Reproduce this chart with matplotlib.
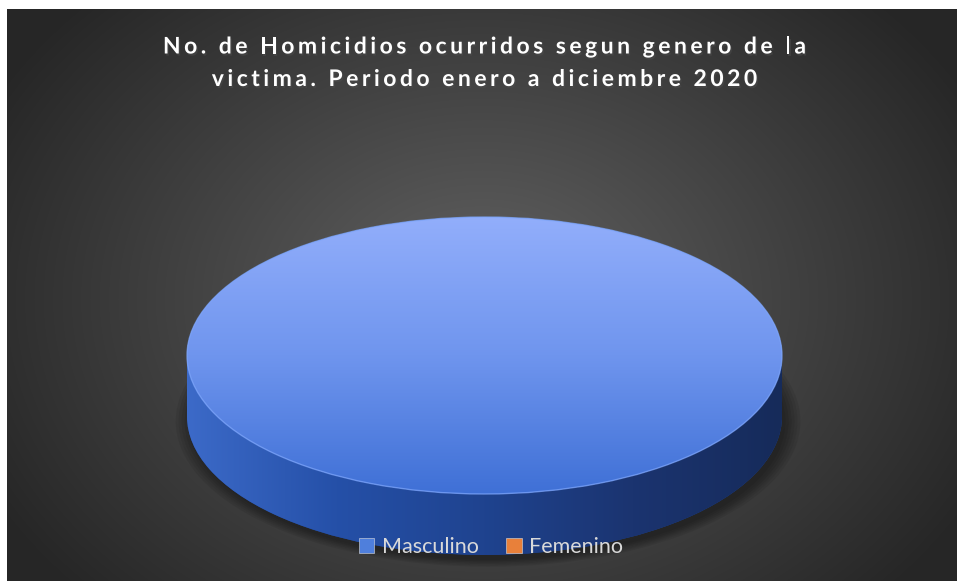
import matplotlib.pyplot as plt
import numpy as np
from matplotlib import patheffects
from matplotlib.colors import LinearSegmentedColormap
from matplotlib.font_manager import FontProperties
from matplotlib.patches import Patch, Rectangle
from matplotlib.textpath import TextToPath

# datos del grafico
generos = ["Masculino", "Femenino"]
homicidios = [100, 0]
titulo = ["No. de Homicidios ocurridos segun genero de la",
          "victima. Periodo enero a diciembre 2020"]

# colores por serie: (cara superior arriba -> abajo), (pared izquierda -> derecha)
top_colors = [["#92aefb", "#6f95ee", "#3f70d6"], ["#f6b27c", "#ee8f4a", "#d86a22"]]
side_colors = [["#3c6ac8", "#2550a8", "#1f438f", "#1b3470", "#162b5a"],
               ["#d06a28", "#b45a20", "#9c4e1c", "#853f16", "#6e3412"]]
legend_colors = ["#4f7fdc", "#e8803a"]

W, H = 957, 581
DPI = 100
fig = plt.figure(figsize=(W / DPI, H / DPI), dpi=DPI)
fig.patch.set_facecolor("white")

# fondo gris oscuro con degradado radial
ax_bg = fig.add_axes([7 / W, 0, (W - 7) / W, (H - 9) / H])
yy, xx = np.mgrid[0:H - 9, 0:W - 7]
r = np.sqrt(((xx - 475) / 560.0) ** 2 + ((yy - 290) / 430.0) ** 2).clip(0, 1)
bg = (98 - 60 * r) / 255.0
ax_bg.imshow(np.dstack([bg, bg, bg]), aspect="auto", interpolation="bilinear")
ax_bg.set_axis_off()

# ejes del pastel en unidades de radio (elipse aplastada)
ax = fig.add_axes([0, 0, 1, 1])
ax.patch.set_alpha(0)
thick = 0.44
xlim = (-484.5 / 297.5, (W - 484.5) / 297.5)
ylim = ((355.5 - H) / 138.5, 355.5 / 138.5)

pie_kw = dict(startangle=90, counterclock=False)

# sombra bajo el cilindro
for rad in np.linspace(1.0, 1.05, 6):
    ax.pie(homicidios, center=(0.012, -thick - 0.035), colors=["black"] * len(homicidios),
           radius=rad, wedgeprops=dict(alpha=0.07, linewidth=0), **pie_kw)

# pared lateral
bottom, _ = ax.pie(homicidios, center=(0, -thick), colors=[c[2] for c in side_colors],
                   radius=1, wedgeprops=dict(linewidth=0), **pie_kw)
side_grad = np.linspace(0, 1, 256).reshape(1, -1)
for wedge, cols in zip(bottom, side_colors):
    cmap = LinearSegmentedColormap.from_list("side", cols)
    im = ax.imshow(side_grad, cmap=cmap, extent=[-1, 1, -1 - thick, 1],
                   aspect="auto", zorder=2, interpolation="bilinear")
    im.set_clip_path(wedge)

# franja entre la base y la cara superior (serie mayor)
main = int(np.argmax(homicidios))
rect = Rectangle((-1, -thick), 2, thick, facecolor="none", edgecolor="none")
ax.add_patch(rect)
im = ax.imshow(side_grad, cmap=LinearSegmentedColormap.from_list("side", side_colors[main]),
               extent=[-1, 1, -1 - thick, 1], aspect="auto", zorder=2,
               interpolation="bilinear")
im.set_clip_path(rect)

# cara superior
top, _ = ax.pie(homicidios, center=(0, 0), colors=[c[1] for c in top_colors],
                radius=1, wedgeprops=dict(linewidth=0, zorder=3), **pie_kw)
top_grad = np.linspace(0, 1, 256).reshape(-1, 1)
for wedge, cols in zip(top, top_colors):
    cmap = LinearSegmentedColormap.from_list("top", cols)
    im = ax.imshow(top_grad, cmap=cmap, extent=[-1, 1, -1, 1], aspect="auto",
                   zorder=4, interpolation="bilinear")
    im.set_clip_path(wedge)

# borde claro de la cara superior
rim, _ = ax.pie(homicidios, center=(0, 0), colors=["none"] * len(homicidios), radius=1,
                wedgeprops=dict(linewidth=1.0, edgecolor="#7ea6fb", alpha=0.7, zorder=5),
                **pie_kw)
for wedge, val in zip(rim, homicidios):
    if val == 0:
        wedge.set_linewidth(0)

ax.set_aspect("auto")
ax.set_xlim(*xlim)
ax.set_ylim(*ylim)
ax.set_axis_off()

# titulo con espaciado entre letras (letra por letra)
title_font = FontProperties(family="Lato", weight="bold", size=16.5)
ttp = TextToPath()


def advance(ch):
    base = ttp.get_text_width_height_descent("||", title_font, ismath=False)[0]
    full = ttp.get_text_width_height_descent("|" + ch + "|", title_font, ismath=False)[0]
    return (full - base) * DPI / 72.0


track = 3.5
shadow = [patheffects.withSimplePatchShadow(offset=(1, -1.5), alpha=0.5)]
for i, linea in enumerate(titulo):
    widths = [advance(ch) for ch in linea]
    total = sum(widths) + track * (len(linea) - 1)
    x = 484.5 - total / 2
    for ch, w in zip(linea, widths):
        if ch != " ":
            fig.text(x / W, 1 - (47 + 32.5 * i) / H, ch, ha="left", va="center",
                     color="white", fontproperties=title_font, path_effects=shadow)
        x += w + track

# leyenda
handles = [Patch(facecolor=c, edgecolor="#dddddd", linewidth=0.4) for c in legend_colors]
leg = fig.legend(handles, generos, loc="center", bbox_to_anchor=(491 / W, 1 - 547 / H),
                 ncol=2, frameon=False, handlelength=0.7, handleheight=0.7,
                 handletextpad=0.35, columnspacing=1.3,
                 prop={"family": "Lato", "size": 15.5})
for txt in leg.get_texts():
    txt.set_color("#d9d9d9")

fig.savefig("out.png", dpi=DPI)
plt.close(fig)
